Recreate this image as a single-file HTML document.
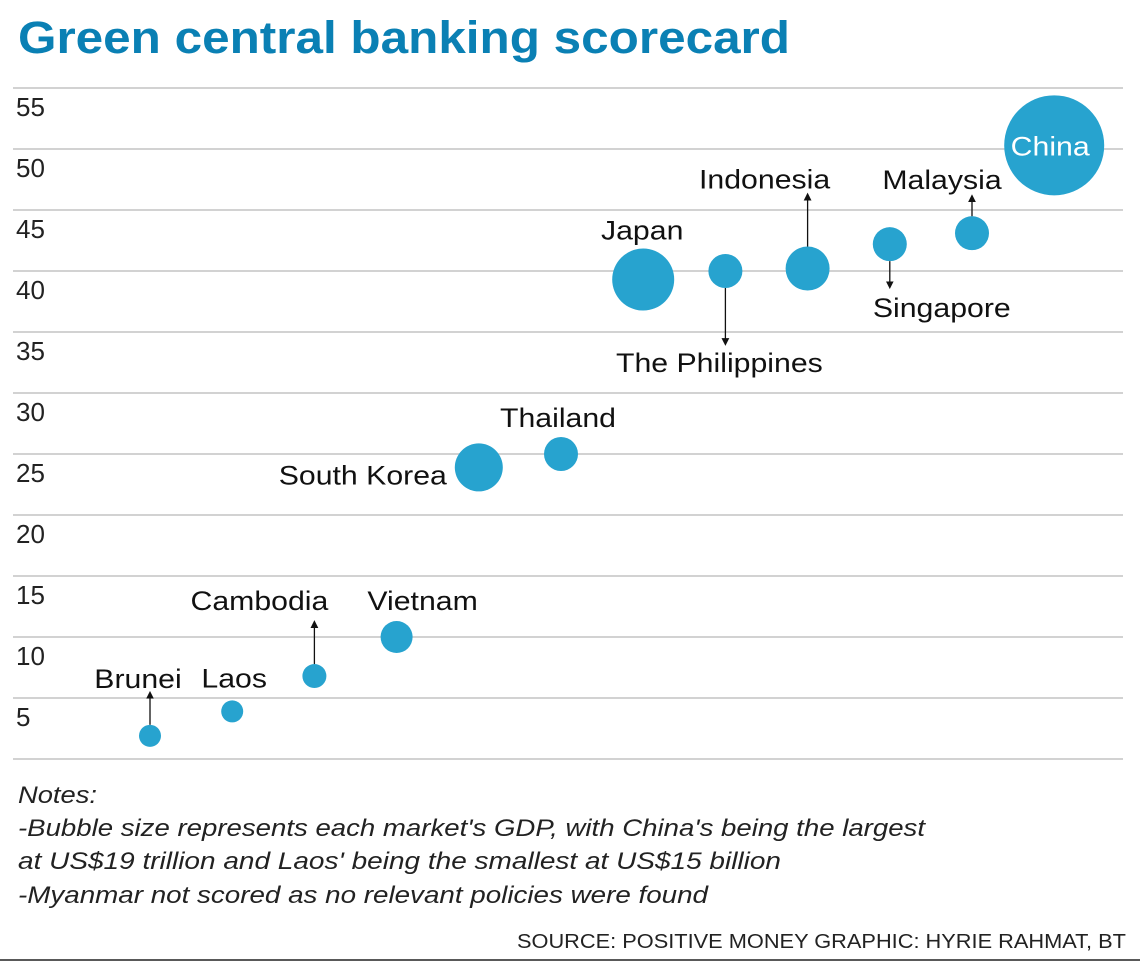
<!DOCTYPE html>
<html><head><meta charset="utf-8"><style>
body{margin:0;background:#fff;width:1140px;height:968px;overflow:hidden;font-family:"Liberation Sans",sans-serif}
</style></head><body>
<svg id="chart" width="1140" height="968" xmlns="http://www.w3.org/2000/svg">
<defs><marker id="ah" viewBox="0 0 10 10" refX="5" refY="5" markerWidth="6" markerHeight="6" orient="auto-start-reverse"><path d="M0,0 L10,5 L0,10 z" fill="#111"/></marker></defs>
<text x="18" y="53" font-size="45" font-weight="bold" fill="#0a80b4" textLength="772" lengthAdjust="spacingAndGlyphs">Green central banking scorecard</text>
<g id="grid"></g><g id="marks"></g>
<text x="18" y="803" font-size="24" font-style="italic" fill="#222" textLength="79" lengthAdjust="spacingAndGlyphs">Notes:</text>
<text x="18" y="836" font-size="24" font-style="italic" fill="#222" textLength="907" lengthAdjust="spacingAndGlyphs">-Bubble size represents each market's GDP, with China's being the largest</text>
<text x="18" y="869" font-size="24" font-style="italic" fill="#222" textLength="763" lengthAdjust="spacingAndGlyphs">at US$19 trillion and Laos' being the smallest at US$15 billion</text>
<text x="18" y="903" font-size="24" font-style="italic" fill="#222" textLength="690" lengthAdjust="spacingAndGlyphs">-Myanmar not scored as no relevant policies were found</text>
<text x="517" y="948" font-size="20" fill="#222" textLength="609" lengthAdjust="spacingAndGlyphs">SOURCE: POSITIVE MONEY   GRAPHIC: HYRIE RAHMAT, BT</text>
<line x1="0" y1="960" x2="1140" y2="960" stroke="#222" stroke-width="1.5"/>
</svg>
<script>
const countries=["Brunei","Laos","Cambodia","Vietnam","South Korea","Thailand","Japan","The Philippines","Indonesia","Singapore","Malaysia","China"];
const scores=[1.9,3.9,6.8,10,23.9,25,39.3,40,40.2,42.2,43.1,50.3];
const gdpRadius=[11,11,12,16,24,17,31,17,22,17,17,50];
const yTicks=[5,10,15,20,25,30,35,40,45,50,55];
// label placement: [dx, dy, arrow(0 none,1 up,-1 down), arrowLen]
const labelPos=[[-12,-48,1,30],[2,-24,0,0],[-55,-66,1,40],[26,-27,0,0],[-116,17,0,0],[-3,-27,0,0],[-1,-40,0,0],[-6,101,-1,54],[-43,-80,1,50],[52,73,-1,24],[-30,-44,1,18],[-4,10,0,0]];
const x=i=>150+i*82.2;
const y=v=>759-v*12.2;
const NS="http://www.w3.org/2000/svg";
const grid=document.getElementById('grid'),marks=document.getElementById('marks');
function mk(tag,attrs,parent){const e=document.createElementNS(NS,tag);for(const k in attrs)e.setAttribute(k,attrs[k]);parent.appendChild(e);return e;}
const gl=[0].concat(yTicks);
gl.forEach(v=>{const l=mk('line',{x1:13,x2:1123,y1:y(v),y2:y(v),stroke:'#c4c4c4','stroke-width':1.5},grid);

});
yTicks.forEach(v=>{const t=mk('text',{x:16,y:y(v)+28,'font-size':26,fill:'#222'},grid);t.textContent=v;

});
countries.forEach((c,i)=>{const cx=x(i),cy=y(scores[i]),r=gdpRadius[i];
const b=mk('circle',{cx:cx,cy:cy,r:r,fill:'#27a3cf'},marks);


const p=labelPos[i];
if(p[2]===1){const a=mk('line',{x1:cx,x2:cx,y1:cy-r,y2:cy-r-p[3],stroke:'#111','stroke-width':1.3,'marker-end':'url(#ah)'},marks);

}
if(p[2]===-1){const a=mk('line',{x1:cx,x2:cx,y1:cy+r,y2:cy+r+p[3],stroke:'#111','stroke-width':1.3,'marker-end':'url(#ah)'},marks);

}
const t=mk('text',{x:cx+p[0],y:cy+p[1],'font-size':27,fill:c==="China"?'#fff':'#111','text-anchor':'middle'},marks);
t.textContent=c;


const w=t.getComputedTextLength();
t.setAttribute('textLength',(w*1.12).toFixed(1));
t.setAttribute('lengthAdjust','spacingAndGlyphs');});
</script>
</body></html>
